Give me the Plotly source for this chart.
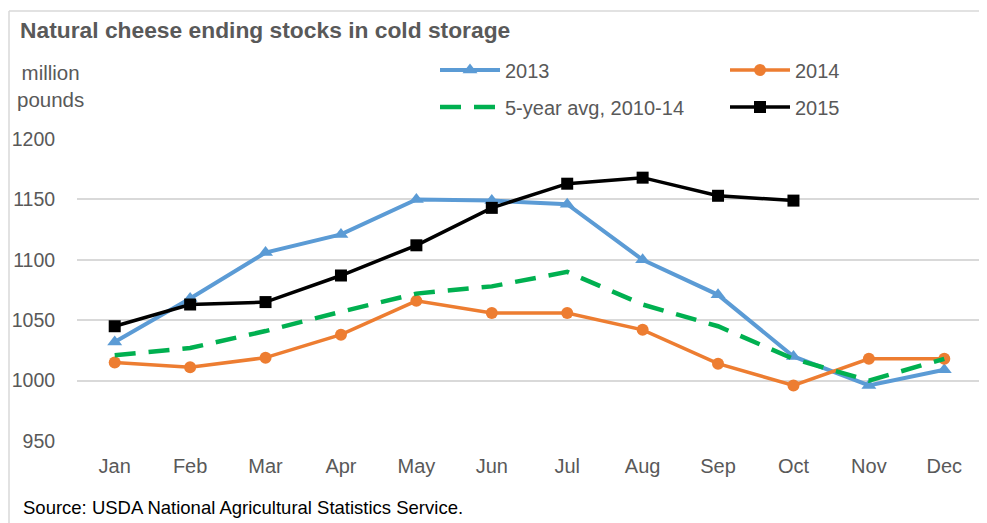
import plotly.graph_objects as go

months = ["Jan", "Feb", "Mar", "Apr", "May", "Jun", "Jul", "Aug", "Sep", "Oct", "Nov", "Dec"]
y2013 = [1032, 1068, 1106, 1121, 1150, 1149, 1146, 1100, 1071, 1020, 996, 1009]
y2014 = [1015, 1011, 1019, 1038, 1066, 1056, 1056, 1042, 1014, 996, 1018, 1018]
avg5 = [1021, 1027, 1041, 1057, 1072, 1078, 1090, 1063, 1045, 1018, 1000, 1018]
y2015 = [1045, 1063, 1065, 1087, 1112, 1143, 1163, 1168, 1153, 1149]

grey = "#595959"
font = "Liberation Sans, Arial, sans-serif"

# page body adds ~8px offset, so the figure is laid out in (screen - 8) pixels
W, H = 979, 515
L, R, T, B = 69, 5, 131, 82
PW, PH = W - L - R, H - T - B


def px(x):
    return (x - 8 - L) / PW


def py(y):
    return (H - B - (y - 8)) / PH


fig = go.Figure()
fig.add_trace(go.Scatter(
    x=months, y=y2013, name="2013", mode="lines+markers",
    line=dict(color="#5B9BD5", width=4),
    marker=dict(symbol="triangle-up", size=13, color="#5B9BD5"),
    legend="legend"
))
fig.add_trace(go.Scatter(
    x=months, y=y2014, name="2014", mode="lines+markers",
    line=dict(color="#ED7D31", width=3.5),
    marker=dict(symbol="circle", size=12, color="#ED7D31"),
    legend="legend2"
))
fig.add_trace(go.Scatter(
    x=months, y=avg5, name="5-year avg, 2010-14", mode="lines",
    line=dict(color="#00B050", width=4.5, dash="21px,13px"),
    legend="legend3"
))
fig.add_trace(go.Scatter(
    x=months[:len(y2015)], y=y2015, name="2015", mode="lines+markers",
    line=dict(color="#000000", width=3.5),
    marker=dict(symbol="square", size=12, color="#000000"),
    legend="legend4"
))

legend_common = dict(
    orientation="h", xanchor="left", yanchor="middle",
    font=dict(family=font, size=20, color=grey),
    bgcolor="rgba(0,0,0,0)", itemwidth=60,
)

fig.update_layout(
    width=W, height=H,
    margin=dict(l=L, r=R, t=T, b=B),
    paper_bgcolor="white", plot_bgcolor="white",
    font=dict(family=font, color=grey),
    showlegend=True,
    title=dict(text="<b>Natural cheese ending stocks in cold storage</b>",
               x=12 / W, xanchor="left", y=1 - 22 / H, yanchor="middle",
               font=dict(family=font, size=22.8, color=grey)),
    legend=dict(x=px(435), y=py(70), **legend_common),
    legend2=dict(x=px(725), y=py(70), **legend_common),
    legend3=dict(x=px(435), y=py(107), **legend_common),
    legend4=dict(x=px(725), y=py(107), **legend_common),
    xaxis=dict(
        type="category", range=[-0.5, 11.5], showgrid=False, zeroline=False,
        showline=False, ticks="outside", ticklen=7, tickcolor="rgba(0,0,0,0)",
        tickfont=dict(family=font, size=20, color=grey),
    ),
    yaxis=dict(
        range=[950, 1200], dtick=50, showgrid=True, gridcolor="#D9D9D9",
        gridwidth=1.5, zeroline=False, showline=False,
        ticks="outside", ticklen=17, tickcolor="rgba(0,0,0,0)",
        tickfont=dict(family=font, size=19.5, color=grey),
    ),
    annotations=[
        dict(text="million<br>pounds", xref="paper", yref="paper",
             x=px(50), y=py(86), xanchor="center", yanchor="middle",
             align="center", showarrow=False,
             font=dict(family=font, size=20.5, color=grey)),
        dict(text="Source: USDA National Agricultural Statistics Service.",
             xref="paper", yref="paper", x=px(21), y=py(507),
             xanchor="left", yanchor="middle", showarrow=False,
             font=dict(family=font, size=18.5, color="#000000")),
    ],
    shapes=[
        dict(type="line", xref="paper", yref="paper",
             x0=px(9), x1=px(9), y0=py(540), y1=py(11),
             line=dict(color="#D9D9D9", width=1.5)),
        dict(type="line", xref="paper", yref="paper",
             x0=px(9), x1=px(1000), y0=py(11), y1=py(11),
             line=dict(color="#D9D9D9", width=1.5)),
    ],
)

fig.write_html("out.html")
